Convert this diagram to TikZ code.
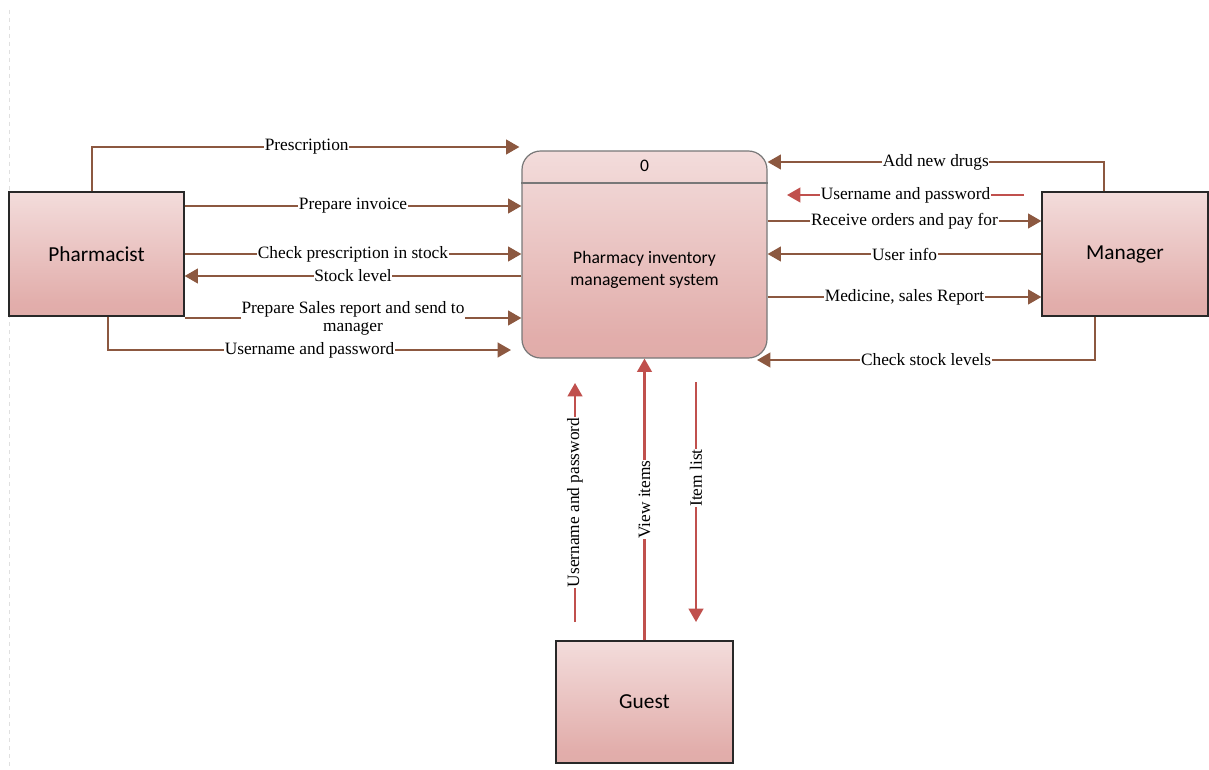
\documentclass[tikz,border=0pt]{standalone}
\usepackage{fontspec}
\setmainfont{Liberation Serif}
\newfontfamily\boxfont{Carlito}
\usetikzlibrary{arrows.meta,calc}

\definecolor{brn}{RGB}{140,88,64}
\definecolor{rd}{RGB}{192,80,77}
\definecolor{edge}{RGB}{40,40,40}
\definecolor{procedge}{RGB}{120,120,120}

% soft pink gradient used by every box: near-white top, deeper rose low down
\pgfdeclareverticalshading{boxgrad}{100bp}{%
  rgb(0bp)=(0.95,0.84,0.83);
  rgb(18bp)=(0.88,0.67,0.66);
  rgb(30bp)=(0.885,0.68,0.67);
  rgb(100bp)=(0.99,0.965,0.965)}

\tikzset{
  entity/.style={draw=edge, line width=0.9pt, shading=boxgrad,
    font=\boxfont\fontsize{16}{18}\selectfont, text=black},
  procbox/.style={draw=procedge, line width=0.9pt, shading=boxgrad,
    rounded corners=14pt},
  boxtxt/.style={font=\boxfont\fontsize{13.2}{16.5}\selectfont, align=center, text=black},
  flow/.style={draw=brn, line width=1.6pt,
    -{Triangle[length=10pt,width=11pt]}},
  rflow/.style={draw=rd, line width=1.6pt,
    -{Triangle[length=10pt,width=11pt]}},
  lab/.style={fill=white, inner sep=0.5pt, text=black,
    font=\fontsize{13}{13.5}\selectfont, align=center}
}

\begin{document}
\begin{tikzpicture}[x=0.75pt,y=-0.75pt]
\useasboundingbox (0,0) rectangle (1209,770);
\fill[white] (0,0) rectangle (1209,770);

% faint page guide on the left
\draw[black!12, line width=0.6pt, dashed] (9,10) -- (9,770);

% external entities and the process
\node[entity, minimum width=131.25pt, minimum height=93pt] (ph) at (96.5,254) {Pharmacist};
\node[entity, minimum width=124.5pt, minimum height=93pt] (mg) at (1125,254) {Manager};
\node[entity, minimum width=132.75pt, minimum height=91.5pt] (gs) at (644.5,702) {Guest};
\node[procbox, minimum width=183.75pt, minimum height=155.25pt] (proc) at (644.5,254.5) {};
\draw[procedge, line width=0.9pt] (proc.west |- 0,183) -- (proc.east |- 0,183);
\node[boxtxt] (pid) at (644.5,166) {0};
\node[boxtxt] (pname) at (644.5,270) {Pharmacy inventory\\management system};

% free ends of open flows
\coordinate (pu) at (511,350);
\coordinate (mu0) at (1024,195);
\coordinate (mu1) at (787,195);
\coordinate (cs) at (757,360);
\coordinate (gu0) at (575,622);
\coordinate (gu1) at (575,383);
\coordinate (il0) at (696,382);
\coordinate (il1) at (696,622);

% Pharmacist <-> system
\draw[flow, shorten >=1.5pt] (ph.north -| 92,0) |- node[lab, pos=.75]{Prescription} (proc.west |- 0,147);
\draw[flow] (ph.east |- 0,206) -- node[lab]{Prepare invoice} (proc.west |- 0,206);
\draw[flow] (ph.east |- 0,254) -- node[lab]{Check prescription in stock} (proc.west |- 0,254);
\draw[flow] (proc.west |- 0,276) -- node[lab]{Stock level} (ph.east |- 0,276);
\draw[flow] (ph.east |- 0,318) -- node[lab]{Prepare Sales report and send to\\manager} (proc.west |- 0,318);
\draw[flow] (ph.south -| 108,0) |- node[lab, pos=.75]{Username and password} (pu);

% Manager <-> system
\draw[flow] (mg.north -| 1104,0) |- node[lab, pos=.75]{Add new drugs} (proc.east |- 0,162);
\draw[rflow] (mu0) -- node[lab]{Username and password} (mu1);
\draw[flow] (proc.east |- 0,221) -- node[lab]{Receive orders and pay for} (mg.west |- 0,221);
\draw[flow] (mg.west |- 0,254) -- node[lab]{User info} (proc.east |- 0,254);
\draw[flow] (proc.east |- 0,297) -- node[lab]{Medicine, sales Report} (mg.west |- 0,297);
\draw[flow] (mg.south -| 1095,0) |- node[lab, pos=.75]{Check stock levels} (cs);

% Guest <-> system
\draw[rflow] (gu0) -- node[lab, rotate=90]{Username and password} (gu1);
\draw[rflow] (gs.north) -- node[lab, rotate=90, pos=.5]{View items} (proc.south);
\draw[rflow] (il0) -- node[lab, rotate=90, pos=.4]{Item list} (il1);
\end{tikzpicture}
\end{document}
